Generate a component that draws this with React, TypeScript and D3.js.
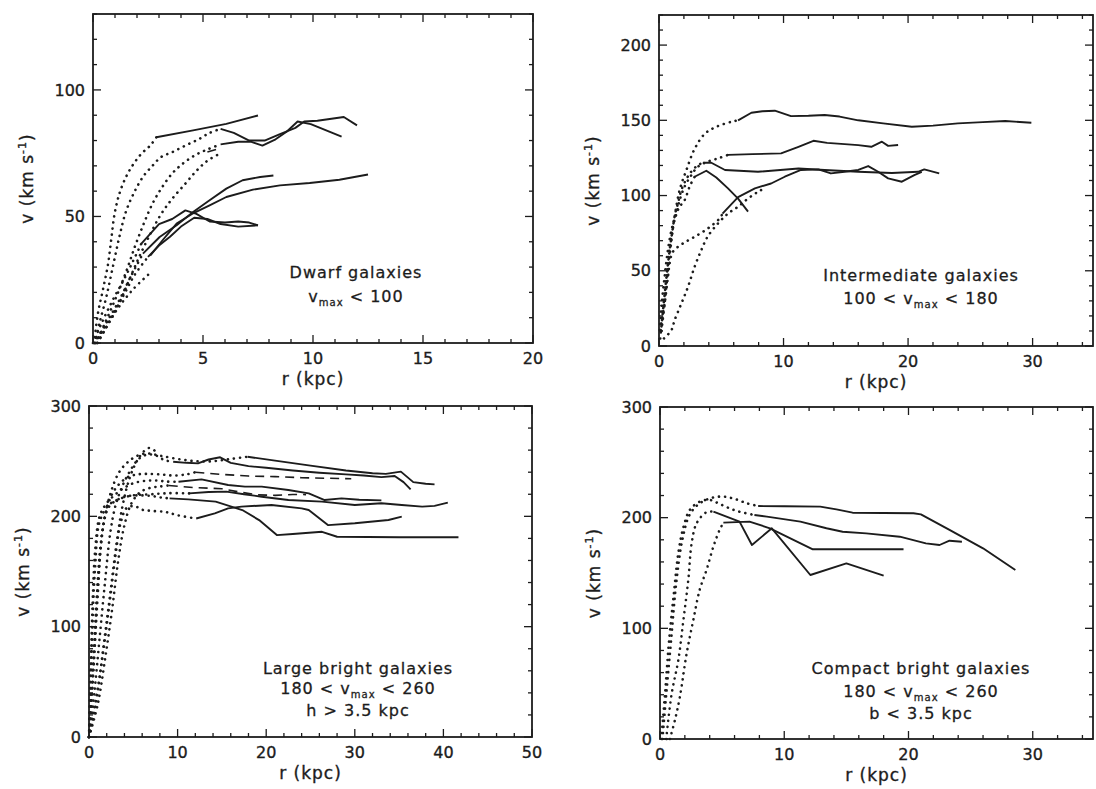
import React from 'react';
import * as d3 from 'd3';

type Pt = [number, number];

// ---- Dwarf galaxies (r in kpc, v in km/s) ----
const dwarfRising: Pt[][] = [
  [[0.05, 0], [0.23, 12], [0.45, 21], [0.68, 31], [0.83, 41], [0.98, 51], [1.2, 59], [1.5, 65.6], [1.8, 70.2], [2.2, 74.8], [2.6, 78], [2.88, 81.3]],
  [[0.1, 0], [0.3, 8], [0.6, 18], [0.9, 30], [1.2, 42], [1.5, 52], [1.9, 60], [2.3, 66], [2.7, 70], [3.1, 73.5], [3.6, 75.4], [4.2, 78], [4.8, 80.5], [5.3, 83], [5.8, 84.6]],
  [[0.15, 0], [0.5, 7], [1, 17], [1.5, 28], [1.9, 38], [2.3, 47], [2.7, 55], [3.1, 61], [3.6, 67], [4.1, 71], [4.6, 74], [5.2, 76.5], [5.8, 78.5]],
  [[0.2, 0], [0.6, 6], [1.1, 14], [1.6, 24], [2.1, 34], [2.6, 43], [3.1, 51], [3.6, 57], [4.2, 63], [4.7, 68], [5.2, 72], [5.8, 75]],
  [[0, 0], [0.4, 8], [0.9, 17], [1.4, 25], [1.8, 32], [2.2, 39.3]],
  [[0.05, 0], [0.6, 8], [1.2, 17], [1.7, 26], [2.27, 35.3]],
  [[0.1, 0], [0.8, 10], [1.4, 19], [1.9, 27], [2.5, 34]],
  [[0.2, 0], [1, 12], [1.8, 21], [2.6, 27.7]],
];
const dwarfFlat: Pt[][] = [
  [[2.88, 81.3], [4.55, 84], [6.06, 86.6], [7.5, 89.9]],
  [[5.8, 84.6], [6.4, 83], [7.1, 80], [7.8, 80], [8.5, 82.5], [9.2, 85], [9.6, 87.5], [10.2, 87.8], [11.4, 89.3], [12, 86]],
  [[5.8, 78.5], [6.6, 79.5], [7.2, 79.5], [7.7, 78], [8.3, 80.5], [8.8, 83.5], [9.3, 87.5], [9.9, 86.5], [11.3, 81.5]],
  [[2.2, 39.3], [3, 47], [3.6, 49], [4.2, 52.4], [4.7, 51], [5.3, 48], [6, 47.6], [6.6, 48], [7.1, 47.6], [7.5, 46.5]],
  [[2.5, 34], [3, 38.5], [3.5, 42], [4, 46], [4.6, 49.5], [5.2, 49], [5.8, 47], [6.6, 46], [7.5, 46.5]],
  [[2.27, 35.3], [3.03, 41.9], [3.8, 46.5], [4.55, 51.8], [5.3, 56.4], [6.06, 61], [6.8, 64.3], [7.6, 65.6], [8.2, 66.2]],
  [[2.6, 34.5], [3.2, 41], [3.8, 47.2], [4.5, 51], [5.3, 54.4], [6.06, 57.7], [7.27, 60.6], [8.5, 62.3], [9.85, 63.2], [11.2, 64.5], [12.5, 66.6]],
];
const dwarfDashed: Pt[][] = [[[5.2, 75.5], [5.8, 77]]];

// ---- Intermediate galaxies ----
const interRising: Pt[][] = [
  [[0.2, 10], [0.45, 28], [0.72, 50.5], [1, 70], [1.26, 86], [1.66, 103.7], [2.2, 117], [2.86, 131], [3.67, 141], [4.6, 145.7], [5.8, 149], [6.35, 150]],
  [[0.13, 10.6], [0.32, 26], [0.6, 46], [0.86, 66], [1.1, 79], [1.4, 88], [1.66, 97], [2.06, 106], [2.6, 113.6], [3.1, 119], [3.9, 122.5], [4.74, 124.7], [5.54, 127]],
  [[0.1, 5], [0.3, 22], [0.55, 42], [0.8, 60], [1.05, 75], [1.3, 88], [1.53, 95], [1.8, 103.7], [2.2, 111], [2.6, 116], [3.1, 120], [3.53, 121.8]],
  [[0.19, 15], [0.45, 28], [0.72, 46], [0.86, 55], [1.12, 62.7], [1.93, 68.2], [2.86, 72.6], [3.9, 78], [4.87, 84.8], [5.1, 88]],
  [[0.4, 5], [1, 10.6], [1.26, 17.3], [1.8, 28.3], [2.33, 39.4], [2.86, 52.7], [3.4, 63.8], [3.9, 72.6], [4.74, 81.5], [5.54, 88], [6.35, 92.6], [7.15, 98], [7.95, 102.5], [8.5, 105]],
  [[0.06, 10.6], [0.19, 26], [0.45, 46], [0.72, 64], [1, 77], [1.26, 85], [1.66, 92.6], [2.06, 97], [2.46, 106], [2.86, 112.5]],
];
const interFlat: Pt[][] = [
  [[6.35, 150], [7.42, 155], [8.3, 156], [9.3, 156.4], [10.6, 152.8], [12, 153], [13.3, 153.5], [14.5, 152.5], [16, 150], [18, 148], [20.3, 145.7], [22, 146.5], [24, 148], [26, 148.8], [27.8, 149.5], [29.9, 148.4]],
  [[5.54, 127], [7.5, 127.5], [9.8, 128], [11.2, 132.4], [12.4, 136.4], [13.5, 135], [14.9, 134.2], [16, 133.5], [17.05, 132.4], [17.9, 135.8], [18.4, 133], [19.2, 133.6]],
  [[3.53, 121.8], [4.2, 121.8], [5.3, 117], [7.95, 115.8], [11.2, 118], [13.3, 117], [16, 115.8], [18.7, 115], [20.8, 115.8], [21.3, 117.4], [22.5, 114.7]],
  [[5.1, 88], [6.35, 99], [7.7, 104.8], [9, 108], [10.1, 112.5], [11.4, 117], [12.8, 117.4], [13.8, 114.7], [14.9, 115.8], [16, 117], [16.8, 119.6], [17.6, 115.8], [18.4, 111.4], [19.5, 109.2], [20.5, 113.6], [21.1, 115.8]],
  [[2.86, 112.5], [3.8, 116.5], [4.6, 112], [5.54, 104.8], [6.35, 98], [7.15, 89.3]],
];

// ---- Large bright galaxies ----
const largeRising: Pt[][] = [
  [[0, 0], [0.2, 60], [0.4, 120], [0.7, 170], [1.2, 200], [2, 212], [3, 220], [4, 226], [5, 230], [6.2, 232], [7.5, 232.5], [8.8, 231.5], [10.1, 231.4]],
  [[0, 0], [0.4, 50], [0.8, 110], [1.2, 165], [1.8, 200], [2.6, 220], [3.5, 230], [4.5, 236], [5.5, 238], [6.5, 238.5], [8, 238], [9.5, 237], [11, 238], [12, 240]],
  [[0, 0], [0.6, 40], [1.2, 90], [1.8, 140], [2.4, 185], [3, 210], [3.8, 228], [4.7, 242], [5.6, 252], [6.6, 256], [7.6, 255], [8.5, 251], [9.5, 249.5]],
  [[0, 0], [0.8, 30], [1.6, 80], [2.4, 130], [3.1, 175], [3.8, 210], [4.6, 235], [5.4, 250], [6.2, 259], [6.8, 262], [7.5, 259]],
  [[0, 0], [1, 30], [1.8, 70], [2.6, 115], [3.3, 160], [4, 192], [4.8, 212], [5.8, 222], [7, 226], [8, 227], [9, 228]],
  [[0, 0], [0.5, 60], [1, 130], [1.5, 185], [2.2, 208], [3.2, 215], [4.2, 218], [5.5, 219], [7, 218.5], [8.2, 217], [9.1, 216.3]],
  [[0, 0], [1.3, 60], [2.3, 120], [3, 165], [3.6, 195], [4.3, 208], [5.2, 209], [6, 206], [7, 205], [8.6, 204], [10, 201], [12.1, 198]],
  [[0, 0], [0.3, 80], [0.7, 155], [1.2, 195], [2.2, 210], [3.5, 216], [5, 219], [7, 220], [9, 221], [11.3, 220.8]],
  [[0, 0], [0.5, 70], [1, 140], [1.6, 190], [2.4, 220], [3.4, 240], [4.5, 250], [5.5, 255], [6.5, 257], [8, 255], [10, 252], [12, 250], [14, 250], [16, 252], [17.9, 254]],
];
const largeFlat: Pt[][] = [
  [[17.9, 254], [21, 250.5], [25, 246], [29, 241.5], [32, 239], [33.5, 238.5], [35.2, 240.5], [36.6, 231], [38, 229.5], [39, 229]],
  [[9.5, 249.5], [11, 248.5], [12.3, 248], [13.5, 251.5], [14.8, 253.5], [16, 248.5], [18, 245.5], [20, 244], [23, 241.5], [26, 239.5], [29, 238], [31, 237], [33, 235.5], [34.5, 236.5], [35.5, 231], [36.3, 224.5]],
  [[10.1, 231.4], [12.7, 233.5], [15.7, 228.4], [17.6, 226.9], [19.5, 226.9], [22.5, 223.9], [24.8, 220.8], [26.6, 214.8], [28.5, 216.3], [30.5, 215], [33, 214.5]],
  [[11.3, 220.8], [13.5, 222], [15.5, 222.4], [17.5, 220], [19.5, 217.8], [22.5, 214.8], [26.3, 213.3], [30, 210.3], [33, 211.8], [35.3, 210.3], [37.6, 208.8], [39, 209.5], [40.5, 212.4]],
  [[9.1, 216.3], [11.2, 215.4], [14.3, 213.3], [17.3, 205.7], [19.2, 196.6], [21.2, 183], [23, 184], [26.3, 186], [28, 181.5], [35, 181], [41.7, 181]],
  [[12.1, 198], [14.2, 202.7], [15.7, 207.2], [17.2, 208.8], [20.6, 210.3], [24, 207.2], [24.8, 205.7], [27, 192], [30, 193.7], [33.8, 196.7], [35.3, 199.7]],
];
const largeDashed: Pt[][] = [
  [[9, 228], [12, 226], [15, 225], [17, 222], [19, 219.5], [21, 219], [23, 219.8], [24.5, 219.7]],
  [[12, 240], [15, 238], [18, 236.5], [21, 236], [24, 235], [27, 234.5], [29.6, 234]],
];

// ---- Compact bright galaxies ----
const compactRising: Pt[][] = [
  [[0.2, 0], [0.5, 40], [0.9, 90], [1.3, 140], [1.8, 180], [2.4, 203], [3.2, 213], [4.2, 218], [5.1, 219], [6, 217], [7, 213], [7.9, 210.5]],
  [[0.1, 0], [0.4, 40], [0.7, 85], [1.1, 130], [1.5, 170], [1.9, 192], [2.4, 207], [3.2, 214.5], [4, 216], [4.7, 213], [5.6, 208.4], [6.4, 205.4], [7.6, 202.4]],
  [[0.8, 0], [1.2, 17], [1.6, 38], [2.14, 77], [2.68, 107.5], [3.2, 135], [3.75, 153], [4.3, 174], [4.8, 189], [5.1, 195.5]],
  [[0.5, 0], [0.94, 41], [1.47, 71], [1.88, 107], [2.28, 144], [2.55, 177], [2.95, 195], [3.75, 205], [4.3, 205.4]],
];
const compactFlat: Pt[][] = [
  [[7.9, 210.5], [10, 210.3], [12.9, 210], [14.2, 207.5], [15.5, 204.5], [18, 204.2], [20.4, 204], [21, 203], [23.3, 188.9], [26, 172.3], [28.6, 152.7]],
  [[7.6, 202.4], [8.6, 200.9], [11.3, 196.4], [13.4, 190.4], [14.7, 187.3], [16.6, 185.8], [19.3, 182.8], [21.4, 176.8], [22.5, 175.3], [23.3, 179.2], [24.3, 178.3]],
  [[5.1, 195.5], [7.2, 196.4], [8.85, 190.4], [12.3, 171.4], [19.6, 171.4]],
  [[4.3, 205.4], [6.4, 196.4], [7.4, 175.3], [9, 190.4], [12.1, 148.2], [15, 158.7], [18, 147.6]],
];

// tick labels
const dwarfXTicks = [0, 5, 10, 15, 20];
const dwarfYTicks = [0, 50, 100];
const interXTicks = [0, 10, 20, 30];
const interYTicks = [0, 50, 100, 150, 200];
const largeXTicks = [0, 10, 20, 30, 40, 50];
const brightYTicks = [0, 100, 200, 300];
const compactXTicks = [0, 10, 20, 30];

const ink = '#1c1c1c';
const font = "'DejaVu Sans', sans-serif";

const Vmax = () => (
  <>
    v<tspan fontSize={10} dy={4}>max</tspan>
    <tspan dy={-4}> </tspan>
  </>
);

const Panel = ({ box, xDomain, yDomain, xStep, yStep, xTicks, yTicks, rising, flat, dashed, lines, textX }) => {
  const x = d3.scaleLinear().domain(xDomain).range([box.left, box.right]);
  const y = d3.scaleLinear().domain(yDomain).range([box.bottom, box.top]);
  const straight = d3.line<Pt>().x(d => x(d[0])).y(d => y(d[1]));
  const smooth = d3.line<Pt>().x(d => x(d[0])).y(d => y(d[1])).curve(d3.curveCatmullRom);
  const eps = 1e-6;
  const xMinor = d3.range(xDomain[0], xDomain[1] + eps, xStep[1]);
  const yMinor = d3.range(yDomain[0], yDomain[1] + eps, yStep[1]);
  const isMajor = (v, s) => Math.abs(v / s - Math.round(v / s)) < eps;
  const midX = (box.left + box.right) / 2;
  const midY = (box.top + box.bottom) / 2;

  return (
    <g>
      <rect x={box.left} y={box.top} width={box.right - box.left} height={box.bottom - box.top}
        fill="none" stroke={ink} strokeWidth={1.8} />
      {xMinor.map((t, i) => {
        const len = isMajor(t, xStep[0]) ? 8 : 4;
        return (
          <g key={'xt' + i} stroke={ink} strokeWidth={1.3}>
            <line x1={x(t)} x2={x(t)} y1={box.bottom} y2={box.bottom - len} />
            <line x1={x(t)} x2={x(t)} y1={box.top} y2={box.top + len} />
          </g>
        );
      })}
      {yMinor.map((t, i) => {
        const len = isMajor(t, yStep[0]) ? 8 : 4;
        return (
          <g key={'yt' + i} stroke={ink} strokeWidth={1.3}>
            <line y1={y(t)} y2={y(t)} x1={box.left} x2={box.left + len} />
            <line y1={y(t)} y2={y(t)} x1={box.right} x2={box.right - len} />
          </g>
        );
      })}
      <g fontFamily={font} fontSize={16} fill={ink} stroke={ink} strokeWidth={0.35}>
        {xTicks.map(t => (
          <text key={'xl' + t} x={x(t)} y={box.bottom + 21} textAnchor="middle">{t}</text>
        ))}
        {yTicks.map(t => (
          <text key={'yl' + t} x={box.left - 8} y={y(t)} dy="0.35em" textAnchor="end">{t}</text>
        ))}
        <text x={midX} y={box.bottom + 42} textAnchor="middle" fontSize={17} letterSpacing={1}>r (kpc)</text>
        <text transform={`translate(${box.left - 66},${midY}) rotate(-90)`} textAnchor="middle" dy="0.35em"
          fontSize={17} letterSpacing={1}>
          v (km s<tspan fontSize={11} dy={-7}>-1</tspan><tspan dy={7}>)</tspan>
        </text>
      </g>
      <g fill="none" stroke={ink} strokeLinejoin="round">
        {rising.map((c, i) => (
          <path key={'r' + i} d={smooth(c)} strokeWidth={2.6} strokeDasharray="0.1 6" strokeLinecap="round" />
        ))}
        {dashed.map((c, i) => (
          <path key={'d' + i} d={straight(c)} strokeWidth={1.6} strokeDasharray="9 6" />
        ))}
        {flat.map((c, i) => (
          <path key={'f' + i} d={straight(c)} strokeWidth={1.9} />
        ))}
      </g>
      <g fontFamily={font} fontSize={16} fill={ink} stroke={ink} strokeWidth={0.3} textAnchor="middle" letterSpacing={1}>
        {lines.map((l, i) => (
          <text key={'t' + i} x={textX} y={l.y}>{l.content}</text>
        ))}
      </g>
    </g>
  );
};

export default function App() {
  return (
    <svg width={1096} height={789} style={{ position: 'absolute', left: 0, top: 0, background: '#fff' }}>
      <Panel
        box={{ left: 93, right: 533, top: 14, bottom: 343 }}
        xDomain={[0, 20]} yDomain={[0, 130]} xStep={[5, 1]} yStep={[50, 10]}
        xTicks={dwarfXTicks} yTicks={dwarfYTicks}
        rising={dwarfRising} flat={dwarfFlat} dashed={dwarfDashed}
        textX={356}
        lines={[
          { y: 278, content: 'Dwarf galaxies' },
          { y: 302, content: <><Vmax />{'< 100'}</> },
        ]}
      />
      <Panel
        box={{ left: 659, right: 1093, top: 15, bottom: 346 }}
        xDomain={[0, 34.85]} yDomain={[0, 220]} xStep={[10, 2]} yStep={[50, 10]}
        xTicks={interXTicks} yTicks={interYTicks}
        rising={interRising} flat={interFlat} dashed={[]}
        textX={921}
        lines={[
          { y: 281, content: 'Intermediate galaxies' },
          { y: 304, content: <>{'100 < '}<Vmax />{'< 180'}</> },
        ]}
      />
      <Panel
        box={{ left: 89, right: 532, top: 406, bottom: 737 }}
        xDomain={[0, 50]} yDomain={[0, 300]} xStep={[10, 2]} yStep={[100, 20]}
        xTicks={largeXTicks} yTicks={brightYTicks}
        rising={largeRising} flat={largeFlat} dashed={largeDashed}
        textX={358}
        lines={[
          { y: 674, content: 'Large bright galaxies' },
          { y: 694, content: <>{'180 < '}<Vmax />{'< 260'}</> },
          { y: 716, content: 'h > 3.5 kpc' },
        ]}
      />
      <Panel
        box={{ left: 660, right: 1093, top: 407, bottom: 739 }}
        xDomain={[0, 34.85]} yDomain={[0, 300]} xStep={[10, 2]} yStep={[100, 20]}
        xTicks={compactXTicks} yTicks={brightYTicks}
        rising={compactRising} flat={compactFlat} dashed={[]}
        textX={921}
        lines={[
          { y: 674, content: 'Compact bright galaxies' },
          { y: 697, content: <>{'180 < '}<Vmax />{'< 260'}</> },
          { y: 719, content: 'b < 3.5 kpc' },
        ]}
      />
    </svg>
  );
}
